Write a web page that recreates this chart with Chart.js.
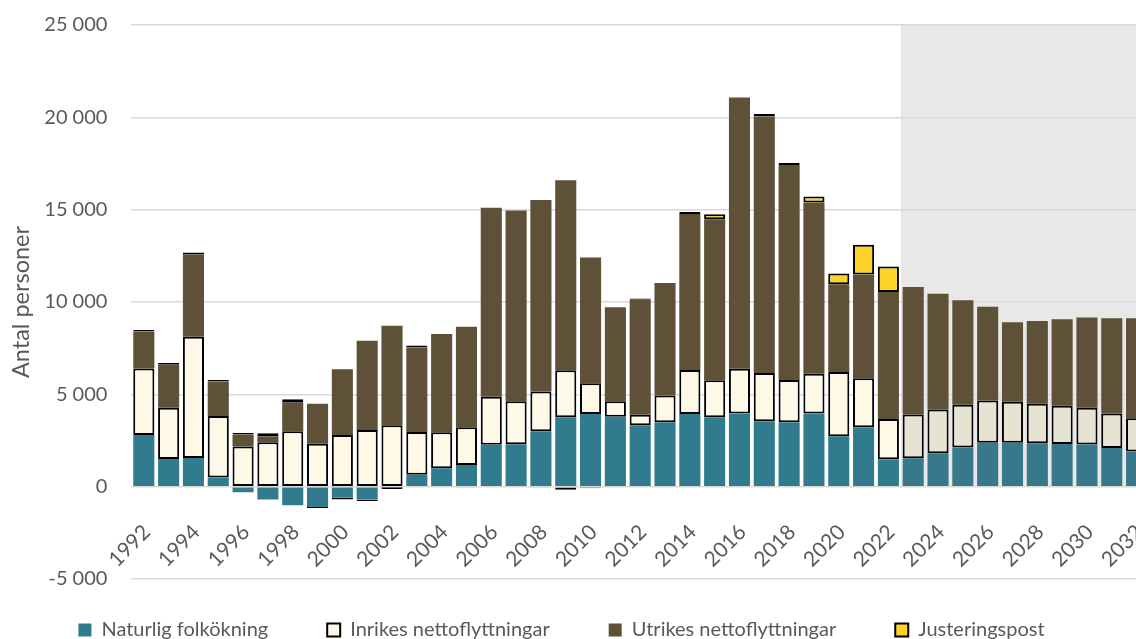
<!DOCTYPE html>
<html lang="sv">
<head>
<meta charset="utf-8">
<title>Befolkningsförändring</title>
<script src="https://cdn.jsdelivr.net/npm/chart.js@4.4.1/dist/chart.umd.min.js"></script>
<style>
  html, body { margin: 0; padding: 0; background: #fff; overflow: hidden; }
  #wrap { width: 1150px; height: 668px; }
</style>
</head>
<body>
<div id="wrap"><canvas id="befChart"></canvas></div>
<script>
// år på x-axeln
const years = ['1992','1993','1994','1995','1996','1997','1998','1999','2000','2001',
  '2002','2003','2004','2005','2006','2007','2008','2009','2010','2011',
  '2012','2013','2014','2015','2016','2017','2018','2019','2020','2021',
  '2022','2023','2024','2025','2026','2027','2028','2029','2030','2031','2032'];

// komponenter (antal personer)
const naturlig = [2800, 1500, 1550, 500, -300, -700, -1000, -1100, -600, -690,
  -30, 640, 1000, 1180, 2270, 2300, 3000, 3760, 3940, 3780,
  3320, 3490, 3940, 3760, 3960, 3540, 3490, 3960, 2725, 3215,
  1490, 1540, 1815, 2125, 2380, 2380, 2345, 2310, 2290, 2090, 1910];
const inrikes = [3600, 2770, 6570, 3330, 2180, 2400, 3000, 2330, 2800, 3070,
  3320, 2320, 1940, 2035, 2600, 2330, 2160, 2540, 1660, 850,
  570, 1450, 2380, 2000, 2430, 2620, 2290, 2160, 3490, 2650,
  2180, 2370, 2365, 2305, 2290, 2220, 2145, 2070, 1980, 1870, 1800];
const utrikes = [2000, 2330, 4470, 1860, 640, 330, 1540, 2160, 3560, 4830,
  5400, 4580, 5330, 5450, 10240, 10320, 10370, 10290, 6810, 5090,
  6230, 6090, 8450, 8720, 14680, 13880, 11640, 9270, 4740, 5630,
  6870, 6900, 6270, 5670, 5070, 4300, 4485, 4685, 4890, 5160, 5410];
const justering = [80, 100, 90, 90, 90, 160, 200, -60, -100, -80,
  -90, 100, null, -60, null, null, -60, -170, -80, -40,
  70, null, 110, 270, -50, 140, 110, 320, 590, 1600,
  1380, null, null, null, null, null, null, null, null, null, null];

const yTicks = [-5000, 0, 5000, 10000, 15000, 20000, 25000];
const prognosFran = '2023';
const prognosIdx = years.indexOf(prognosFran);

function fmt(v) {
  const s = String(Math.abs(v)).replace(/\B(?=(\d{3})+(?!\d))/g, ' ');
  return (v < 0 ? '-' : '') + s;
}

// prognosfärger blir lite gråare
function farg(hist, prog) {
  return ctx => (ctx.dataIndex >= prognosIdx ? prog : hist);
}

// grå bakgrund för prognosåren
const prognosYta = {
  id: 'prognosYta',
  beforeDraw(chart) {
    const {ctx, chartArea, scales: {x, y}} = chart;
    const left = (x.getPixelForValue(prognosIdx - 1) + x.getPixelForValue(prognosIdx)) / 2;
    const top = y.getPixelForValue(yTicks[yTicks.length - 1]);
    const bottom = y.getPixelForValue(0);
    ctx.save();
    ctx.fillStyle = '#E8E8E8';
    ctx.fillRect(left, top, chartArea.right - left, bottom - top);
    ctx.restore();
  }
};

// årtal snett under nollinjen
const arsEtiketter = {
  id: 'arsEtiketter',
  afterDatasetsDraw(chart) {
    const {ctx, scales: {x, y}} = chart;
    const y0 = y.getPixelForValue(0) + 42;
    ctx.save();
    ctx.font = '21px Lato';
    ctx.fillStyle = '#595959';
    ctx.textAlign = 'right';
    ctx.textBaseline = 'middle';
    years.forEach((yr, i) => {
      if (i % 2) return;
      ctx.save();
      ctx.translate(x.getPixelForValue(i) + 3, y0);
      ctx.rotate(-Math.PI / 4);
      ctx.fillText(yr, 0, 0);
      ctx.restore();
    });
    ctx.restore();
  }
};

// flytta legenden lite åt vänster och uppåt
const legendFlytt = {
  id: 'legendFlytt',
  afterLayout(chart) {
    chart.legend.left -= 13;
    chart.legend.right -= 13;
    chart.legend.top -= 18;
    chart.legend.bottom -= 18;
  }
};

Chart.defaults.font.family = 'Lato';
Chart.defaults.font.size = 20;
Chart.defaults.color = '#595959';

new Chart(document.getElementById('befChart'), {
  type: 'bar',
  data: {
    labels: years,
    datasets: [
      {
        label: 'Naturlig folkökning',
        data: naturlig,
        backgroundColor: farg('#307C8E', '#37798A'),
        borderWidth: 0
      },
      {
        label: 'Inrikes nettoflyttningar',
        data: inrikes,
        backgroundColor: farg('#FEF8E6', '#E6E3D3'),
        borderColor: '#000',
        borderWidth: 2,
        borderSkipped: false
      },
      {
        label: 'Utrikes nettoflyttningar',
        data: utrikes,
        backgroundColor: '#5E5138',
        borderWidth: 0
      },
      {
        label: 'Justeringspost',
        data: justering,
        backgroundColor: '#FDD32B',
        borderColor: '#000',
        borderWidth: 2,
        borderSkipped: false
      }
    ]
  },
  options: {
    responsive: true,
    maintainAspectRatio: false,
    animation: false,
    layout: { padding: { top: 25, right: 1, left: 0, bottom: 0 } },
    datasets: { bar: { barPercentage: 0.85, categoryPercentage: 1 } },
    plugins: {
      tooltip: { enabled: false },
      legend: {
        position: 'bottom',
        labels: { boxWidth: 13, boxHeight: 13, padding: 59, color: '#595959', font: { size: 20 } }
      }
    },
    scales: {
      x: {
        stacked: true,
        display: false
      },
      y: {
        stacked: true,
        min: -5000,
        max: 25000,
        afterBuildTicks: s => { s.ticks = yTicks.map(v => ({ value: v })); },
        afterFit: s => { s.width = 131.4; },
        ticks: { padding: 0, callback: v => fmt(v) },
        grid: { color: '#D9D9D9', lineWidth: 1.5, drawTicks: true, tickLength: 24, tickColor: 'rgba(0,0,0,0)' },
        border: { display: false },
        title: {
          display: true,
          text: 'Antal personer',
          color: '#595959',
          font: { size: 23.5 },
          padding: { top: 7, bottom: 0 }
        }
      }
    }
  },
  plugins: [prognosYta, arsEtiketter, legendFlytt]
});
</script>
</body>
</html>
